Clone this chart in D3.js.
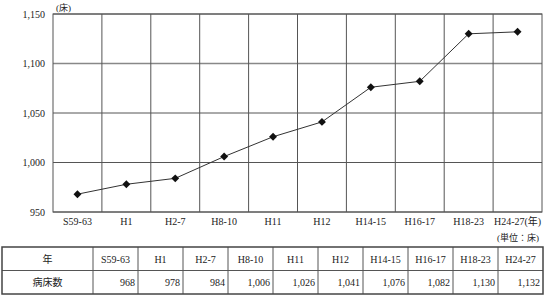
<!DOCTYPE html>
<html>
<head>
<meta charset="utf-8">
<script src="https://cdn.jsdelivr.net/npm/d3@7"></script>
<style>
  body { margin: 0; background: #fff; }
  text { font-family: 'Liberation Serif', 'Noto Sans CJK JP', serif; fill: #222; }
</style>
</head>
<body>
<div id="chart"></div>
<script>
const categories = ['S59-63', 'H1', 'H2-7', 'H8-10', 'H11', 'H12', 'H14-15', 'H16-17', 'H18-23', 'H24-27'];
const beds = [968, 978, 984, 1006, 1026, 1041, 1076, 1082, 1130, 1132];
const yTicks = [950, 1000, 1050, 1100, 1150];

const width = 550;
const height = 296;
const margin = { top: 14, right: 8, bottom: 84, left: 53 };
const plotW = width - margin.left - margin.right;
const plotH = height - margin.top - margin.bottom;
const fmt = d3.format(',');

const svg = d3.select('#chart')
  .append('svg')
  .attr('width', width)
  .attr('height', height);

const x = d3.scaleBand().domain(categories).range([0, plotW]);
const y = d3.scaleLinear().domain([950, 1150]).range([plotH, 0]);

const g = svg.append('g')
  .attr('transform', 'translate(' + margin.left + ',' + margin.top + ')');

// grid
g.selectAll('.hgrid')
  .data(yTicks)
  .enter()
  .append('line')
  .attr('x1', 0)
  .attr('x2', plotW)
  .attr('y1', (d) => y(d))
  .attr('y2', (d) => y(d))
  .attr('stroke', (d) => d === 1100 ? '#888' : '#555')
  .attr('stroke-width', (d) => d === 1100 ? 1.3 : 1);

g.selectAll('.vgrid')
  .data(categories.slice(1))
  .enter()
  .append('line')
  .attr('x1', (d) => x(d))
  .attr('x2', (d) => x(d))
  .attr('y1', 0)
  .attr('y2', plotH)
  .attr('stroke', '#555');

g.append('rect')
  .attr('width', plotW)
  .attr('height', plotH)
  .attr('fill', 'none')
  .attr('stroke', '#555');

// y labels
g.selectAll('.ylab')
  .data(yTicks)
  .enter()
  .append('text')
  .attr('x', -8)
  .attr('y', (d) => y(d) + 3.5)
  .attr('text-anchor', 'end')
  .style('font-size', '10px')
  .text((d) => fmt(d));

svg.append('text')
  .attr('x', margin.left + 3)
  .attr('y', 11)
  .style('font-size', '9px')
  .text('(床)');

// x labels, the last one carries the unit
g.selectAll('.xlab')
  .data(categories)
  .enter()
  .append('text')
  .attr('x', (d) => x(d) + x.bandwidth() / 2)
  .attr('y', plotH + 13)
  .attr('text-anchor', 'middle')
  .style('font-size', '10px')
  .text((d, i) => i === categories.length - 1 ? d + '(年)' : d);

// line + markers
const line = d3.line()
  .x((d, i) => x(categories[i]) + x.bandwidth() / 2)
  .y((d) => y(d));

g.append('path')
  .datum(beds)
  .attr('d', line)
  .attr('fill', 'none')
  .attr('stroke', '#333')
  .attr('stroke-width', 1);

g.selectAll('.pt')
  .data(beds)
  .enter()
  .append('path')
  .attr('d', d3.symbol().type(d3.symbolDiamond2).size(40))
  .attr('transform', (d, i) => 'translate(' + (x(categories[i]) + x.bandwidth() / 2) + ',' + y(d) + ')')
  .attr('fill', '#111');

// table
const tLeft = 2;
const tFirst = 91;
const tRight = 543;
const tTop = 247;
const rowH = 23.5;
const tx = d3.scaleBand().domain(categories).range([tLeft + tFirst, tRight]);

svg.append('text')
  .attr('x', tRight - 4)
  .attr('y', 241)
  .attr('text-anchor', 'end')
  .style('font-size', '9px')
  .text('(単位：床)');

const tg = svg.append('g');

tg.append('line')
  .attr('x1', tLeft).attr('x2', tRight)
  .attr('y1', tTop + rowH).attr('y2', tTop + rowH)
  .attr('stroke', '#555');

tg.selectAll('.tcol')
  .data(categories)
  .enter()
  .append('line')
  .attr('x1', (d) => tx(d))
  .attr('x2', (d) => tx(d))
  .attr('y1', tTop)
  .attr('y2', tTop + rowH * 2)
  .attr('stroke', '#555');

tg.append('rect')
  .attr('x', tLeft)
  .attr('y', tTop)
  .attr('width', tRight - tLeft)
  .attr('height', rowH * 2)
  .attr('fill', 'none')
  .attr('stroke', '#444')
  .attr('stroke-width', 1.5);

tg.append('text')
  .attr('x', tLeft + tFirst / 2)
  .attr('y', tTop + rowH / 2 + 4)
  .attr('text-anchor', 'middle')
  .style('font-size', '10px')
  .text('年');

tg.append('text')
  .attr('x', tLeft + tFirst / 2)
  .attr('y', tTop + rowH * 1.5 + 4)
  .attr('text-anchor', 'middle')
  .style('font-size', '10px')
  .text('病床数');

tg.selectAll('.thead')
  .data(categories)
  .enter()
  .append('text')
  .attr('x', (d) => tx(d) + tx.bandwidth() / 2)
  .attr('y', tTop + rowH / 2 + 4)
  .attr('text-anchor', 'middle')
  .style('font-size', '10px')
  .text((d) => d);

tg.selectAll('.tval')
  .data(beds)
  .enter()
  .append('text')
  .attr('x', (d, i) => tx(categories[i]) + tx.bandwidth() - 3)
  .attr('y', tTop + rowH * 1.5 + 4)
  .attr('text-anchor', 'end')
  .style('font-size', '10px')
  .text((d) => fmt(d));
</script>
</body>
</html>
